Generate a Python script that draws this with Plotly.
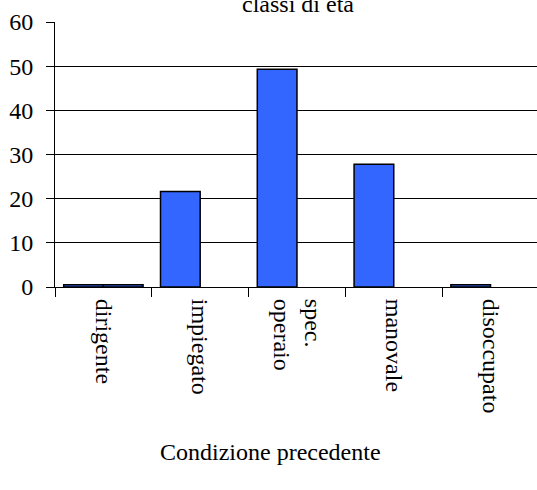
import plotly.graph_objects as go

categories = ["dirigente", "impiegato", "spec.<br>operaio", "manovale", "disoccupato"]
series_a = [0.5, 21.6, 49.3, 27.8, 0.5]
series_b = [0.5, None, None, None, None]
y_ticks = [0, 10, 20, 30, 40, 50, 60]
title_text = "classi di età"
x_title = "Condizione precedente"

FONT = "Liberation Serif, Times New Roman, serif"
BLUE = "#3366FF"

fig = go.Figure()
fig.add_trace(go.Bar(x=categories, y=series_a, marker=dict(color=BLUE, line=dict(color="black", width=1.5)), showlegend=False))
fig.add_trace(go.Bar(x=categories, y=series_b, marker=dict(color=BLUE, line=dict(color="black", width=1.5)), showlegend=False))

fig.update_layout(
    width=537, height=490,
    margin=dict(l=55, r=0, t=22, b=203),
    paper_bgcolor="white", plot_bgcolor="white",
    barmode="group", bargap=0.18, bargroupgap=0,
    font=dict(family=FONT, size=24, color="black"),
    xaxis=dict(
        type="category", range=[-0.5, 4.48],
        showline=True, linecolor="black", linewidth=1,
        ticks="outside", tickson="boundaries", ticklen=9, tickcolor="black",
        tickangle=90, showgrid=False, ticklabelstandoff=6,
        tickfont=dict(family=FONT, size=24),
    ),
    yaxis=dict(
        range=[0, 60], tickvals=y_ticks,
        showline=True, linecolor="black", linewidth=1,
        ticks="outside", ticklen=8, tickcolor="black",
        showgrid=True, gridcolor="black", gridwidth=1,
        zeroline=False, ticklabelstandoff=8,
        tickfont=dict(family=FONT, size=24),
    ),
    annotations=[
        dict(text=title_text, xref="paper", yref="paper", x=(298 - 55) / 482, y=1,
             xanchor="center", yanchor="bottom", yshift=3, showarrow=False,
             font=dict(family=FONT, size=24)),
        dict(text=x_title, xref="paper", yref="paper", x=(270 - 55) / 482, y=0,
             xanchor="center", yanchor="top", yshift=-150, showarrow=False,
             font=dict(family=FONT, size=24)),
    ],
)

fig.write_html("out.html")
